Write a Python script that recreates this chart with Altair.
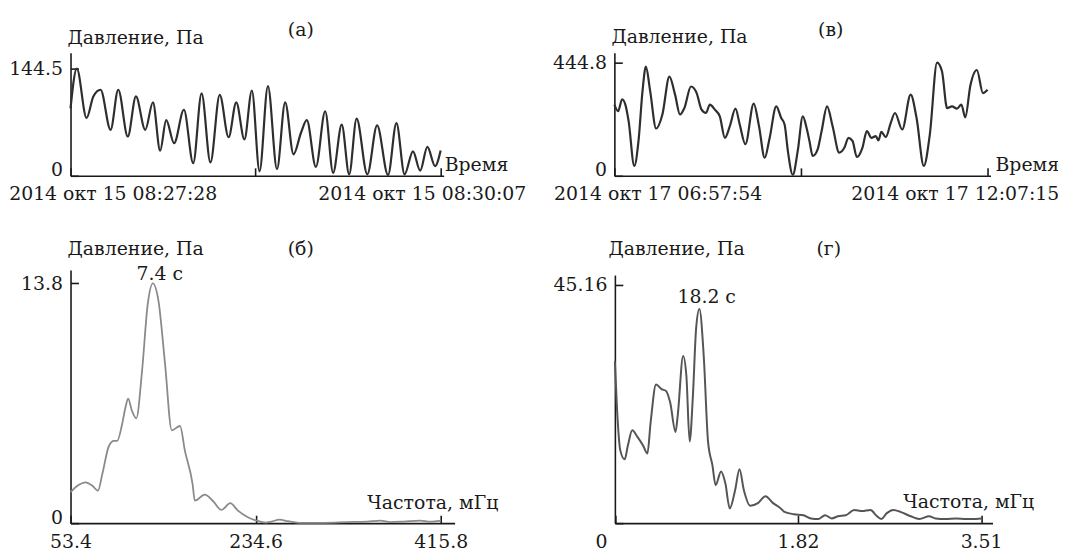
import altair as alt
import pandas as pd

# ---------------- data ----------------
# (а) pressure record, 2014-10-15 from 08:27:28, seconds offset
secs_a = [0, 2.7, 6.9, 9.8, 12.9, 17.2, 20.5, 24.6, 28.1, 32.1, 35.4, 38.5, 41.1, 44.5, 48.7,
          52.7, 56.3, 60.1, 64.1, 67.9, 71.2, 74.7, 77.9, 81.2, 84.8, 88.7, 92.2, 95.8, 99.0,
          101.5, 105.4, 109.4, 112.8, 116.5, 119.7, 122.9, 127.5, 131.7, 136.4, 140.0, 143.5,
          147.1, 150.2, 153.3, 156.6, 159]
pres_a = [91, 144.5, 78, 107, 116, 62, 116, 53, 107, 62, 99, 34, 75, 44, 89, 17, 111, 18, 109,
          52, 99, 49, 115, 6, 121, 9, 99, 29, 58, 75, 12, 87, 4, 69, 2, 77, 2, 68, 1, 71, 2, 33,
          7, 39, 13, 34]

# (в) pressure record, 2014-10-17 from 06:57:54, minutes offset
mins_v = [0, 3.1, 6.4, 9.1, 11.8, 16.5, 20.0, 23.3, 26.1, 29.7, 34.6, 39.8, 45.6, 50.3, 54.4,
          58.0, 63.5, 68.2, 72.3, 75.9, 79.2, 83.3, 87.4, 91.6, 95.7, 100.4, 103.9, 108.6, 115.5,
          119.9, 124.6, 128.7, 134.2, 138.3, 141.1, 143.8, 147.9, 152.0, 156.2, 159.0, 161.7,
          164.4, 168.5, 171.8, 176.3, 180.9, 186.4, 190.6, 194.1, 197.4, 201.0, 205.6, 209.3,
          213.1, 216.7, 218.9, 221.3, 225.0, 229.1, 232.6, 238.6, 245.6, 250.5, 256.5, 261.5,
          267.5, 271.6, 275.8, 279.9, 284.0, 287.6, 290.9, 295.1, 300.5, 305.5, 309.35]
pres_v = [280, 254, 301, 280, 215, 39, 137, 332, 429, 332, 186, 241, 390, 319, 241, 266, 351,
          325, 260, 247, 280, 260, 234, 149, 195, 264, 202, 124, 284, 195, 71, 149, 273, 227,
          202, 98, 4, 98, 234, 195, 137, 78, 104, 176, 273, 195, 91, 110, 149, 137, 74, 110, 176,
          149, 156, 139, 173, 152, 208, 247, 182, 319, 227, 39, 163, 444.8, 410, 266, 273, 264,
          280, 230, 355, 416, 325, 338]

# (б) spectrum, frequency in mHz
freq_b = [53.4, 60.2, 68.3, 74.8, 80.3, 84.5, 91.0, 95.9, 99.1, 103.9, 107.1, 109.8, 113.6,
          117.8, 123.4, 128.9, 134.0, 139.6, 146.0, 152.5, 160.6, 165.4, 172.9, 175.1, 184.9,
          193.0, 201.1, 209.8, 217.3, 227.0, 238.3, 244.8, 250.0, 258.1, 266.2, 279.1, 301.8,
          324.5, 343.9, 356.8, 366.6, 379.6, 395.7, 405.4, 415.8]
spec_b = [1.78, 2.15, 2.35, 2.15, 1.87, 2.82, 4.44, 4.73, 4.73, 5.69, 6.64, 7.17, 6.45, 6.03,
          8.74, 12.56, 13.8, 12.75, 9.12, 5.34, 5.59, 4.16, 2.25, 1.29, 1.64, 1.26, 0.76, 1.15,
          0.72, 0.34, 0.1, 0.03, 0.09, 0.2, 0.11, 0.01, 0.02, 0.06, 0.09, 0.15, 0.06, 0.09, 0.15,
          0.09, 0.15]

# (г) spectrum, frequency in mHz
freq_g = [0.13, 0.15, 0.18, 0.22, 0.25, 0.29, 0.34, 0.39, 0.43, 0.46, 0.51, 0.56, 0.60, 0.64,
          0.69, 0.71, 0.76, 0.79, 0.82, 0.85, 0.88, 0.91, 0.95, 0.99, 1.03, 1.06, 1.11, 1.15,
          1.19, 1.24, 1.28, 1.32, 1.38, 1.45, 1.52, 1.59, 1.66, 1.69, 1.78, 1.87, 1.94, 2.01,
          2.07, 2.13, 2.19, 2.26, 2.34, 2.41, 2.49, 2.54, 2.59, 2.64, 2.70, 2.77, 2.86, 2.94,
          3.03, 3.09, 3.18, 3.28, 3.37, 3.43, 3.51]
spec_g = [30.7, 21.6, 13.8, 12.1, 14.7, 17.6, 16.3, 14.7, 13.2, 19.1, 26.3, 25.4, 25.1, 22.9,
          17.3, 20.4, 31.7, 27.9, 15.5, 24.1, 37.0, 40.6, 31.7, 15.4, 11.0, 7.2, 9.8, 7.5, 2.8,
          6.3, 10.2, 6.3, 3.3, 3.8, 5.1, 3.8, 2.8, 2.2, 1.7, 1.5, 0.9, 0.8, 1.5, 0.9, 1.3, 1.5,
          2.5, 2.3, 2.5, 1.5, 0.8, 1.9, 2.5, 2.1, 1.3, 0.8, 1.3, 0.9, 0.8, 0.9, 0.8, 0.8, 0.9]

y_ticks_a = [0, 144.5]
y_ticks_v = [0, 444.8]
y_ticks_b = [0, 13.8]
y_ticks_g = [0, 45.16]
x_ticks_b = [53.4, 234.6, 415.8]
x_ticks_g = [0.13, 1.82, 3.51]

# ---------------- styling ----------------
FONT = "DejaVu Serif"
FS = 19
INK = "#1a1a1a"
W, H = 1058, 545


def iso(ts):
    return ts.strftime("%Y-%m-%dT%H:%M:%S.%f")[:-3]


t0a = pd.Timestamp("2014-10-15 08:27:28")
t0v = pd.Timestamp("2014-10-17 06:57:54")
df_a = pd.DataFrame({"time": [iso(t0a + pd.Timedelta(seconds=s)) for s in secs_a], "p": pres_a})
df_v = pd.DataFrame({"time": [iso(t0v + pd.Timedelta(minutes=m)) for m in mins_v], "p": pres_v})
df_b = pd.DataFrame({"f": freq_b, "p": spec_b})
df_g = pd.DataFrame({"f": freq_g, "p": spec_g})


def dt(d, h, m, s, ms=0):
    return alt.DateTime(year=2014, month=10, date=d, hours=h, minutes=m, seconds=s,
                        milliseconds=ms)


def ax(**kw):
    base = dict(domainColor=INK, domainWidth=1.6, tickColor=INK, tickWidth=1.6, tickSize=8,
                labelFont=FONT, labelFontSize=FS, labelColor=INK, grid=False,
                labelFlush=False, labelOverlap=False, labelLimit=600)
    base.update(kw)
    return alt.Axis(**base)


zero_base = {"condition": {"test": "datum.value === 0", "value": "alphabetic"}, "value": "middle"}


def y_axis(vals, x_px, fmt, hide_zero=False):
    expr = ("datum.value === 0 ? '" + ("" if hide_zero else "0") + "' : format(datum.value, '"
            + fmt + "')")
    return ax(orient="right", offset=x_px - W, values=vals, labelAlign="right", labelPadding=-16,
              labelBaseline=zero_base, labelExpr=expr)


time_expr = "datum.index === 0.5 ? '' : '2014 окт ' + timeFormat(datum.value, '%d %H:%M:%S')"

# (а)
line_a = alt.Chart(df_a).mark_line(color="#2e2e2e", strokeWidth=2.2, interpolate="monotone").encode(
    x=alt.X("time:T", title=None,
            scale=alt.Scale(domain=[dt(15, 8, 27, 28), dt(15, 8, 30, 8, 300)], range=[63, 439],
                            nice=False),
            axis=ax(orient="top", offset=-167,
                    values=[dt(15, 8, 27, 28), dt(15, 8, 28, 47, 500), dt(15, 8, 30, 7)],
                    labelExpr=time_expr, labelAlign="center", labelBaseline="alphabetic",
                    labelPadding=-31.5,
                    labelOffset={"condition": {"test": "datum.index === 0", "value": 42.5},
                                 "value": -19})),
    y=alt.Y("p:Q", title=None,
            scale=alt.Scale(domain=[0, 165.9], range=[167, 43], nice=False, zero=False),
            axis=y_axis(y_ticks_a, 63, ".1f")),
)

# (в)
line_v = alt.Chart(df_v).mark_line(color="#2e2e2e", strokeWidth=2.2, interpolate="monotone").encode(
    x=alt.X("time:T", title=None,
            scale=alt.Scale(domain=[dt(17, 6, 57, 54), dt(17, 12, 9, 42)], range=[611, 990],
                            nice=False),
            axis=ax(orient="top", offset=-167,
                    values=[dt(17, 6, 57, 54), dt(17, 9, 32, 34, 500), dt(17, 12, 7, 15)],
                    labelExpr=time_expr, labelAlign="center", labelBaseline="alphabetic",
                    labelPadding=-31.5,
                    labelOffset={"condition": {"test": "datum.index === 0", "value": 43.6},
                                 "value": -33})),
    y=alt.Y("p:Q", title=None,
            scale=alt.Scale(domain=[0, 483.8], range=[167, 43], nice=False, zero=False),
            axis=y_axis(y_ticks_v, 611, ".1f")),
)

# (б)
line_b = alt.Chart(df_b).mark_line(color="#8a8a8a", strokeWidth=1.8, interpolate="monotone").encode(
    x=alt.X("f:Q", title=None,
            scale=alt.Scale(domain=[53.4, 429.4], range=[63, 450], nice=False, zero=False),
            axis=ax(orient="top", offset=-517, values=x_ticks_b, format=".1f",
                    labelAlign="center", labelBaseline="alphabetic", labelPadding=-33)),
    y=alt.Y("p:Q", title=None,
            scale=alt.Scale(domain=[0, 14.56], range=[517, 262], nice=False, zero=False),
            axis=y_axis(y_ticks_b, 63, ".1f")),
)

# (г)
line_g = alt.Chart(df_g).mark_line(color="#555555", strokeWidth=2, interpolate="monotone").encode(
    x=alt.X("f:Q", title=None,
            scale=alt.Scale(domain=[0.13, 3.615], range=[611.5, 992], nice=False, zero=False),
            axis=ax(orient="top", offset=-517, values=x_ticks_g,
                    labelExpr="datum.index === 0 ? '0' : format(datum.value, '.2f')",
                    labelAlign="center", labelBaseline="alphabetic", labelPadding=-33,
                    labelOffset={"condition": {"test": "datum.index === 0", "value": -14},
                                 "value": 0})),
    y=alt.Y("p:Q", title=None,
            scale=alt.Scale(domain=[0, 47.04], range=[517, 267], nice=False, zero=False),
            axis=y_axis(y_ticks_g, 611.5, ".2f", hide_zero=True)),
)


def label(txt, x, y, align="left"):
    return alt.Chart(pd.DataFrame({"s": [txt]})).mark_text(
        font=FONT, fontSize=FS, color=INK, align=align, baseline="alphabetic"
    ).encode(x=alt.value(x), y=alt.value(y), text="s:N")


texts = [
    label("Давление, Па", 60, 34), label("(а)", 295, 26, "center"), label("Время", 440, 162),
    label("Давление, Па", 608, 33), label("(в)", 829, 26, "center"), label("Время", 995, 162),
    label("Давление, Па", 60, 247), label("(б)", 295, 247, "center"),
    label("7.4 с", 153, 272, "center"), label("Частота, мГц", 362, 503),
    label("Давление, Па", 605, 247), label("(г)", 827, 247, "center"),
    label("18.2 с", 704, 295, "center"), label("Частота, мГц", 902, 502),
]

chart = alt.layer(line_a, line_v, line_b, line_g, *texts).resolve_scale(
    x="independent", y="independent"
).properties(
    width=W, height=H, autosize=alt.AutoSizeParams(type="none"), padding=0,
    background="white"
).configure_view(stroke=None)

chart.save("out.html", embed_options={"renderer": "svg", "actions": False})
